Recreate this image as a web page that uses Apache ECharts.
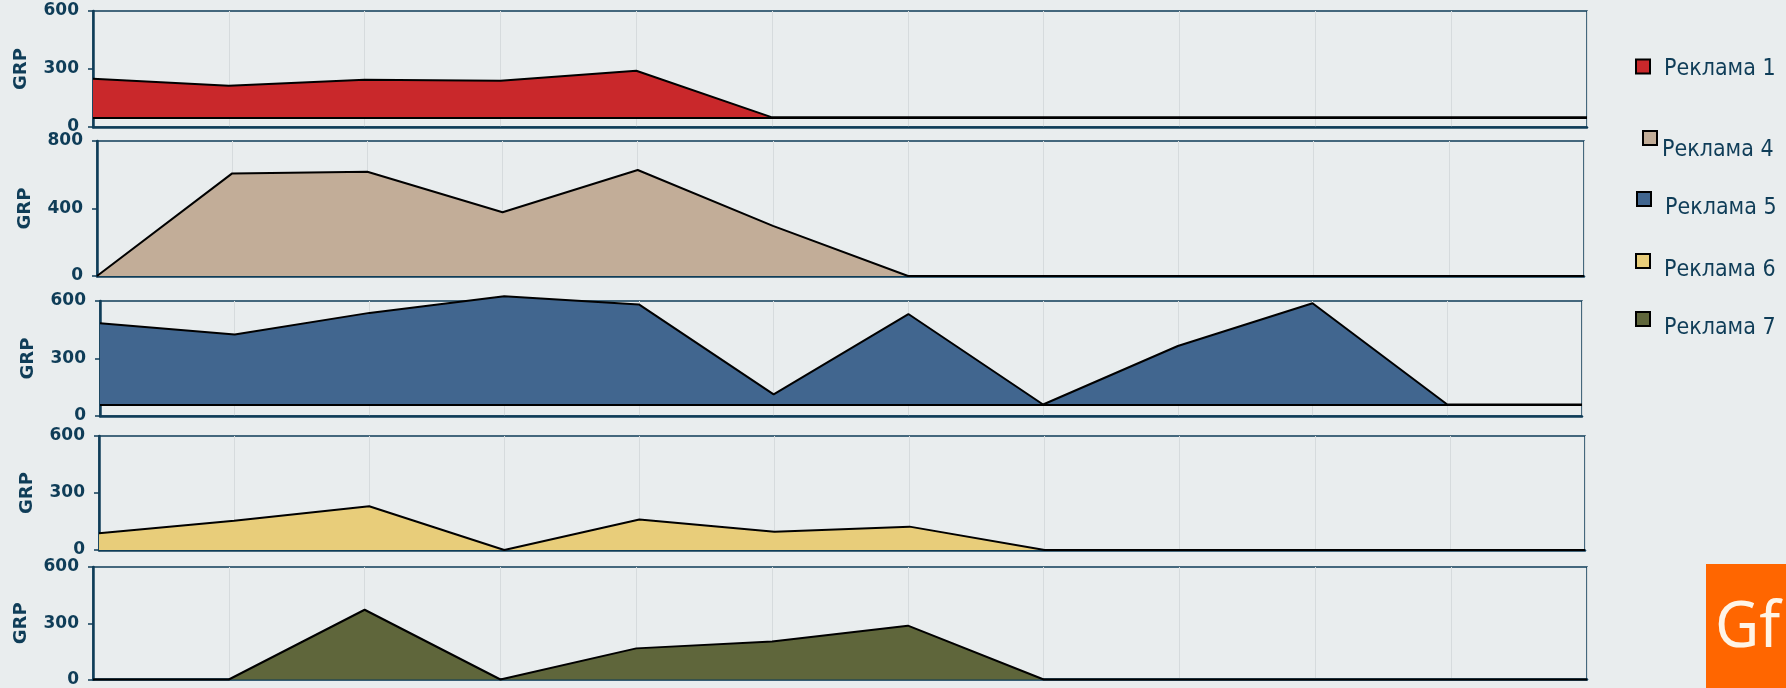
<!DOCTYPE html>
<html>
<head>
<meta charset="utf-8">
<script src="https://cdn.jsdelivr.net/npm/echarts@6/dist/echarts.min.js"></script>
<style>
  html, body { margin: 0; padding: 0; background: #e9edee; }
  #chart { width: 1786px; height: 688px; }
</style>
</head>
<body>
<div id="chart"></div>
<script>
// 12 periods, labels are not shown on the original
const categories = ['1', '2', '3', '4', '5', '6', '7', '8', '9', '10', '11', '12']

const names = ['Реклама 1', 'Реклама 4', 'Реклама 5', 'Реклама 6', 'Реклама 7']
const reklama1 = [249, 214, 244, 239, 291, 50, 50, 50, 50, 50, 50, 50]
const reklama4 = [0, 608, 618, 378, 628, 297, 0, 0, 0, 0, 0, 0]
const reklama5 = [484, 425, 538, 625, 582, 113, 532, 60, 365, 588, 60, 60]
const reklama6 = [88, 154, 230, 0, 161, 96, 123, 0, 0, 0, 0, 0]
const reklama7 = [0, 0, 372, 0, 166, 203, 287, 0, 0, 0, 0, 0]
// floor of the filled area (panels 1 and 3 sit on a raised line)
const baselines = [50, 0, 60, 0, 0]
const yMax = [600, 800, 600, 600, 600]
const yStep = [300, 400, 300, 300, 300]

const navy = '#0f3d58'
const colors = ['#c9282b', '#c2ad98', '#41668f', '#e8cd7a', '#5f663b']
const allData = [reklama1, reklama4, reklama5, reklama6, reklama7]

const grids = [
  { left: 93, top: 11, right: 199, height: 116 },
  { left: 97, top: 141, right: 202, height: 135 },
  { left: 100, top: 301, right: 204, height: 115 },
  { left: 99, top: 436, right: 201, height: 114 },
  { left: 93, top: 567, right: 199, height: 118 }
]
// legend items are not evenly placed in the original
const legendPos = [
  { left: 1635, top: 58, pad: [6, 0, 0, 9] },
  { left: 1642, top: 130, pad: [24, 0, 0, 0] },
  { left: 1636, top: 191, pad: [18, 0, 0, 9] },
  { left: 1635, top: 253, pad: [18, 0, 0, 9] },
  { left: 1635, top: 311, pad: [18, 0, 0, 9] }
]

const xAxes = []
const yAxes = []
const series = []
const legends = []

names.forEach((name, i) => {
  xAxes.push({
    type: 'category',
    gridIndex: i,
    boundaryGap: false,
    data: categories,
    axisLine: { lineStyle: { color: navy, width: 2.5 } },
    axisTick: { show: false },
    axisLabel: { show: false },
    splitLine: { show: true, lineStyle: { color: '#d6dbdd', width: 1 } }
  })
  yAxes.push({
    type: 'value',
    gridIndex: i,
    min: 0,
    max: yMax[i],
    interval: yStep[i],
    name: 'GRP',
    nameLocation: 'middle',
    nameGap: 63,
    nameTextStyle: { color: navy, fontSize: 18, fontWeight: 'bold', fontFamily: 'DejaVu Sans' },
    axisLine: { show: true, lineStyle: { color: navy, width: 2.5 } },
    axisTick: { show: true, length: 5, lineStyle: { color: navy, width: 1.5 } },
    axisLabel: { color: navy, fontSize: 17, fontWeight: 'bold', fontFamily: 'DejaVu Sans', margin: 14 },
    splitLine: { show: false }
  })
  const s = {
    name: name,
    type: 'line',
    xAxisIndex: i,
    yAxisIndex: i,
    data: allData[i],
    symbol: 'none',
    clip: false,
    itemStyle: { color: colors[i], borderColor: '#000', borderWidth: 1.5 },
    lineStyle: { color: '#000', width: 2 },
    areaStyle: { color: colors[i], opacity: 1, origin: baselines[i] }
  }
  if (baselines[i] > 0) {
    s.markLine = {
      silent: true,
      symbol: 'none',
      label: { show: false },
      lineStyle: { color: '#000', width: 2, type: 'solid' },
      data: [{ yAxis: baselines[i] }]
    }
  }
  series.push(s)
  legends.push({
    data: [name],
    left: legendPos[i].left,
    top: legendPos[i].top,
    padding: 0,
    icon: 'rect',
    itemWidth: 14,
    itemHeight: 14,
    formatter: '{t|{name}}',
    textStyle: {
      color: navy,
      fontSize: 23,
      fontFamily: '"DejaVu Sans Condensed", "DejaVu Sans"',
      rich: {
        t: {
          color: navy,
          fontSize: 23,
          fontFamily: '"DejaVu Sans Condensed", "DejaVu Sans"',
          padding: legendPos[i].pad
        }
      }
    }
  })
})

const option = {
  backgroundColor: '#e9edee',
  animation: false,
  grid: grids.map(g => Object.assign({ show: true, borderColor: navy, borderWidth: 1.5, backgroundColor: 'transparent' }, g)),
  xAxis: xAxes,
  yAxis: yAxes,
  legend: legends,
  series: series,
  graphic: [
    { type: 'rect', left: 1706, top: 564, shape: { width: 80, height: 124 }, style: { fill: '#ff6600' } },
    { type: 'text', left: 1715, top: 597, scaleX: 0.95, style: { text: 'Gf', fill: '#fff4e6', fontSize: 64, fontFamily: 'Noto Sans' } }
  ]
}

const myChart = echarts.init(document.getElementById('chart'))
myChart.setOption(option)
</script>
</body>
</html>
